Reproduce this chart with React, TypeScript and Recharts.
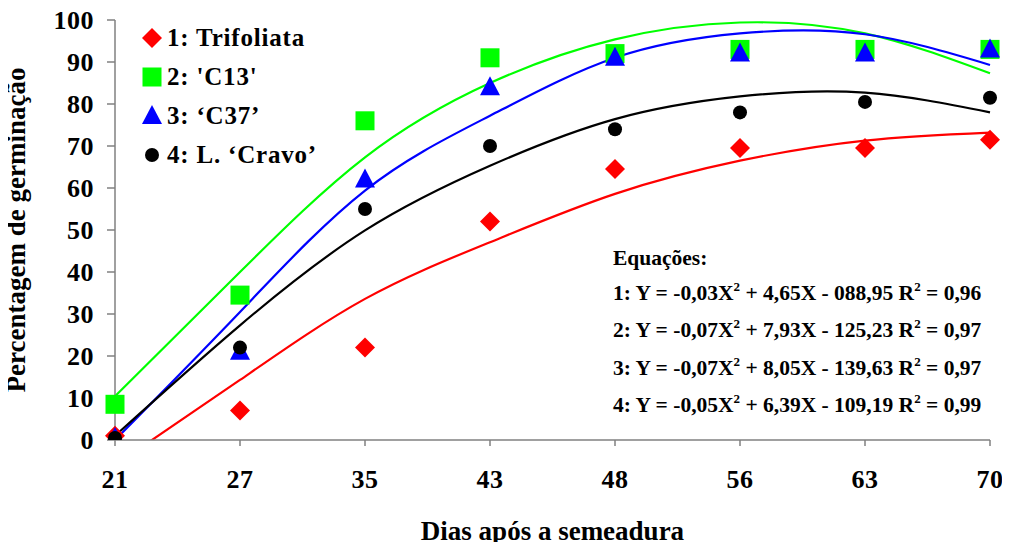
import { LineChart, Line, XAxis, YAxis, Legend } from "recharts";

const days = ["21", "27", "35", "43", "48", "56", "63", "70"];

// observed germination (%)
const trifoliata = [1, 7, 22, 52, 64.5, 69.5, 69.5, 71.5];
const c13 = [8.5, 34.5, 76, 91, 92, 93, 93, 93];
const c37 = [0.5, 21, 62, 84, 91, 92, 92, 93];
const cravo = [0.5, 22, 55, 70, 74, 78, 80.5, 81.5];

// trend lines
const trifoliataFit = [-6, 14.3, 33.6, 47.1, 58.6, 66.5, 71.3, 73.2];
const c13Fit = [10.4, 40, 67.3, 85, 95.4, 99.4, 96.8, 87.3];
const c37Fit = [0, 30.5, 59.4, 77.2, 91, 96.8, 96.6, 89.3];
const cravoFit = [1, 27.3, 49.9, 65.3, 76.4, 81.8, 82.7, 78];

const yTicks = [0, 10, 20, 30, 40, 50, 60, 70, 80, 90, 100];

const legendItems = [
  { label: "1: Trifoliata", shape: "diamond", color: "#FF0000" },
  { label: "2: 'C13'", shape: "square", color: "#00FF00" },
  { label: "3: \u2018C37\u2019", shape: "triangle", color: "#0000FF" },
  { label: "4: L. \u2018Cravo\u2019", shape: "circle", color: "#000000" },
];

const equations = [
  ["1: Y = -0,03X", " + 4,65X - 088,95 R", " = 0,96"],
  ["2: Y = -0,07X", " + 7,93X - 125,23 R", " = 0,97"],
  ["3: Y = -0,07X", " + 8,05X - 139,63 R", " = 0,97"],
  ["4: Y = -0,05X", " + 6,39X - 109,19 R", " = 0,99"],
];

const data = days.map((d, i) => ({
  day: d,
  trifoliata: trifoliata[i],
  c13: c13[i],
  c37: c37[i],
  cravo: cravo[i],
  trifoliataFit: trifoliataFit[i],
  c13Fit: c13Fit[i],
  c37Fit: c37Fit[i],
  cravoFit: cravoFit[i],
}));

const FONT = '"Liberation Serif", "Times New Roman", serif';
const AXIS = "#808080";

function marker(shape: string, color: string, cx: number, cy: number, key?: any) {
  if (shape === "diamond") {
    return (
      <path key={key} d={`M${cx},${cy - 10}L${cx + 10},${cy}L${cx},${cy + 10}L${cx - 10},${cy}Z`} fill={color} />
    );
  }
  if (shape === "square") {
    return <rect key={key} x={cx - 9.5} y={cy - 9.5} width={19} height={19} fill={color} />;
  }
  if (shape === "triangle") {
    return <path key={key} d={`M${cx},${cy - 11}L${cx + 10},${cy + 8}L${cx - 10},${cy + 8}Z`} fill={color} />;
  }
  return <circle key={key} cx={cx} cy={cy} r={7} fill={color} />;
}

const dotFor = (shape: string, color: string) => (props: any) => {
  const { cx, cy, index } = props;
  if (cx == null || cy == null) return <g key={index} />;
  return marker(shape, color, cx, cy, `${shape}-${index}`);
};

const LegendBox = () => (
  <div style={{ fontFamily: FONT, fontWeight: "bold", fontSize: 25, letterSpacing: 0.8 }}>
    {legendItems.map((it) => (
      <div key={it.label} style={{ display: "flex", alignItems: "center", height: 39 }}>
        <svg width={24} height={24} style={{ marginRight: 3 }}>
          {marker(it.shape, it.color, 12, 12)}
        </svg>
        <span>{it.label}</span>
      </div>
    ))}
  </div>
);

export default function App() {
  return (
    <div style={{ position: "relative", margin: -8, width: 1010, height: 550, background: "#fff" }}>
      <LineChart
        width={1010}
        height={550}
        data={data}
        margin={{ top: 20, right: 20, left: 0, bottom: 10 }}
      >
        <XAxis
          dataKey="day"
          stroke={AXIS}
          strokeWidth={1.5}
          tickSize={6}
          tickMargin={24}
          tick={{ fill: "#000", fontFamily: FONT, fontWeight: "bold", fontSize: 26, letterSpacing: 0.5 }}
          height={100}
          interval={0}
          label={{
            value: "Dias após a semeadura",
            position: "insideBottom",
            offset: 0,
            style: { fill: "#000", fontFamily: FONT, fontWeight: "bold", fontSize: 27 },
          }}
        />
        <YAxis
          domain={[0, 100]}
          ticks={yTicks}
          allowDataOverflow
          stroke={AXIS}
          strokeWidth={1.5}
          tickSize={8}
          tickMargin={13}
          width={115}
          tick={{ fill: "#000", fontFamily: FONT, fontWeight: "bold", fontSize: 26, letterSpacing: 0.5 }}
          label={{
            value: "Percentagem de germinação",
            angle: -90,
            position: "insideLeft",
            offset: 15,
            style: { textAnchor: "middle", fill: "#000", fontFamily: FONT, fontWeight: "bold", fontSize: 27 },
          }}
        />
        <Legend
          layout="vertical"
          verticalAlign="middle"
          align="center"
          wrapperStyle={{ left: 140, top: 18, width: 280 }}
          content={() => <LegendBox />}
        />
        <Line type="natural" dataKey="trifoliataFit" stroke="#FF0000" strokeWidth={2.2} dot={false} activeDot={false} isAnimationActive={false} legendType="none" />
        <Line type="natural" dataKey="c13Fit" stroke="#00FF00" strokeWidth={2.2} dot={false} activeDot={false} isAnimationActive={false} legendType="none" />
        <Line type="natural" dataKey="c37Fit" stroke="#0000FF" strokeWidth={2.2} dot={false} activeDot={false} isAnimationActive={false} legendType="none" />
        <Line type="natural" dataKey="cravoFit" stroke="#000000" strokeWidth={2.2} dot={false} activeDot={false} isAnimationActive={false} legendType="none" />
        <Line dataKey="trifoliata" stroke="none" dot={dotFor("diamond", "#FF0000")} activeDot={false} isAnimationActive={false} />
        <Line dataKey="c13" stroke="none" dot={dotFor("square", "#00FF00")} activeDot={false} isAnimationActive={false} />
        <Line dataKey="c37" stroke="none" dot={dotFor("triangle", "#0000FF")} activeDot={false} isAnimationActive={false} />
        <Line dataKey="cravo" stroke="none" dot={dotFor("circle", "#000000")} activeDot={false} isAnimationActive={false} />
      </LineChart>
      <div
        style={{
          position: "absolute",
          left: 613,
          top: 241,
          fontFamily: FONT,
          fontWeight: "bold",
          fontSize: 21.5,
          lineHeight: "34.5px",
          whiteSpace: "nowrap",
        }}
      >
        <div>Equações:</div>
        {equations.map((eq) => (
          <div key={eq[0]}>
            {eq[0]}
            <span style={{ position: "relative", top: -9, fontSize: 13 }}>2</span>
            {eq[1]}
            <span style={{ position: "relative", top: -9, fontSize: 13 }}>2</span>
            {eq[2]}
          </div>
        ))}
      </div>
    </div>
  );
}
